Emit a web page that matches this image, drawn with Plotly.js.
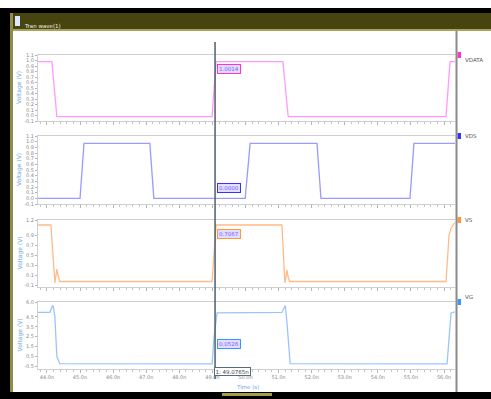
<!DOCTYPE html>
<html><head><meta charset="utf-8">
<script src="https://cdn.plot.ly/plotly-3.0.1.min.js"></script>
<style>html,body{margin:0;padding:0;background:#fff}#c{width:491px;height:399px}</style>
</head><body><div id="c"></div>
<script>
// ---- data ----
const seriesNames = ["VDATA", "VDS", "VS", "VG"];
const tVDATA = [43.73, 44.15, 44.30, 48.99, 49.11, 51.13, 51.29, 56.06, 56.18, 56.33];
const vVDATA = [0.98, 0.98, -0.02, -0.02, 0.98, 0.98, -0.02, -0.02, 0.98, 0.98];
const tVDS = [43.73, 45.00, 45.12, 47.11, 47.23, 49.99, 50.14, 52.16, 52.28, 54.97, 55.09, 56.33];
const vVDS = [0.0, 0.0, 0.97, 0.97, 0.0, 0.0, 0.97, 0.97, 0.0, 0.0, 0.97, 0.97];
const tVS = [43.73, 44.12, 44.24, 44.27, 44.30, 44.33, 44.39, 48.99, 49.05, 49.11, 51.10, 51.19, 51.22, 51.25, 51.28, 51.33, 56.06, 56.15, 56.22, 56.33];
const vVS = [1.1, 1.1, -0.06, 0.05, 0.22, 0.1, -0.03, -0.03, 0.6, 1.1, 1.1, -0.06, 0.05, 0.2, 0.08, -0.03, -0.03, 0.9, 1.05, 1.15];
const tVG = [43.73, 44.09, 44.15, 44.19, 44.24, 44.30, 44.39, 48.99, 49.05, 49.14, 51.10, 51.16, 51.20, 51.25, 51.35, 56.09, 56.21, 56.33];
const vVG = [4.95, 4.95, 5.5, 5.65, 4.5, 0.5, -0.22, -0.25, 2.5, 4.9, 4.95, 5.5, 5.65, 4.0, -0.22, -0.25, 4.9, 5.0];
const xTickVals = [44, 45, 46, 47, 48, 49, 50, 51, 52, 53, 54, 55, 56];
const xTickText = ["44.0n", "45.0n", "46.0n", "47.0n", "48.0n", "49.0n", "50.0n", "51.0n", "52.0n", "53.0n", "54.0n", "55.0n", "56.0n"];
const yTicks1 = [-0.1, 0.0, 0.1, 0.2, 0.3, 0.4, 0.5, 0.6, 0.7, 0.8, 0.9, 1.0, 1.1];
const yTicks2 = [-0.1, 0.0, 0.1, 0.2, 0.3, 0.4, 0.5, 0.6, 0.7, 0.8, 0.9, 1.0, 1.1];
const yTicks3 = [-0.1, 0.1, 0.3, 0.5, 0.7, 0.9, 1.2];
const yTicks4 = [-0.5, 0.5, 1.5, 2.5, 3.5, 4.5, 6.0];
const cursorT = 49.08;
const cursorLabel = "1: 49.0765n";
const cursorValues = ["1.0014", "0.0000", "0.7067", "0.0526"];
const xTitle = "Time (s)";
const yTitle = "Voltage (V)";
const windowTitle = "Tran wave(1)";

// ---- styles ----
const W = 491, H = 399;
const px = x => x / W, py = y => 1 - y / H;
const lineCols = ["#ff99ff", "#9a9aff", "#ffbb88", "#99c4ff"];
const boxCols = ["#ff33cc", "#3333ff", "#ff9933", "#3399ff"];
const panelsPx = [[55, 121], [136, 204], [220, 287], [302, 369]];
const yRanges = [[-0.1, 1.1], [-0.1, 1.1], [-0.14, 1.2], [-0.76, 6.0]];
const yTickSets = [yTicks1, yTicks2, yTicks3, yTicks4];
const xRange = [43.73, 56.33];
const ts = [tVDATA, tVDS, tVS, tVG], vs = [vVDATA, vVDS, vVS, vVG];

const data = ts.map((t, i) => ({
  x: t, y: vs[i], type: "scatter", mode: "lines",
  line: {color: lineCols[i], width: 1.3},
  xaxis: "x" + (i + 1), yaxis: "y" + (i + 1), hoverinfo: "none"
}));

const layout = {
  width: W, height: H, margin: {l: 0, r: 0, t: 0, b: 0},
  paper_bgcolor: "#ffffff", plot_bgcolor: "#ffffff", showlegend: false,
  font: {family: "DejaVu Sans, sans-serif", size: 5, color: "#999"},
  shapes: [], annotations: []
};
for (let i = 0; i < 4; i++) {
  const k = i + 1;
  layout["xaxis" + k] = {
    domain: [px(38), px(455)], range: xRange, anchor: "y" + k,
    showgrid: false, zeroline: false, showline: true, mirror: true, linecolor: "#cfcfcf", linewidth: 1,
    ticks: "outside", ticklen: 3, tickcolor: "#b5b5b5", tickvals: xTickVals, ticktext: xTickText,
    minor: {dtick: 0.2, ticks: "outside", ticklen: 2, tickcolor: "#c5c5c5"},
    showticklabels: i === 3, tickfont: {size: 5, color: "#888"}, fixedrange: true
  };
  if (i > 0) layout["xaxis" + k].matches = "x";
  layout["yaxis" + k] = {
    domain: [py(panelsPx[i][1]), py(panelsPx[i][0])], range: yRanges[i], anchor: "x" + k,
    showgrid: false, zeroline: false, showline: true, linecolor: "#cfcfcf",
    ticks: "outside", ticklen: 2, tickcolor: "#b5b5b5", tickvals: yTickSets[i],
    ticktext: yTickSets[i].map(v => v.toFixed(1)),
    tickfont: {size: 5, color: "#8a8a8a"}, fixedrange: true
  };
  layout.annotations.push({xref: "paper", yref: "paper", x: px(19), y: py((panelsPx[i][0] + panelsPx[i][1]) / 2),
    xanchor: "center", yanchor: "middle",
    text: yTitle, textangle: -90, showarrow: false, font: {size: 6, color: "#6fa8dc"}});
  layout.shapes.push({type: "rect", xref: "paper", yref: "paper", x0: px(457.5), x1: px(461), y0: py(panelsPx[i][0] + 3), y1: py(panelsPx[i][0] - 3),
    fillcolor: boxCols[i], line: {width: 0}});
  layout.annotations.push({xref: "paper", yref: "paper", x: px(463), y: py(panelsPx[i][0]), xanchor: "left",
    text: seriesNames[i], showarrow: false, font: {size: 5.5, color: "#555"}});
}
const boxY = [64, 188, 234, 349];
for (let i = 0; i < 4; i++) {
  layout.annotations.push({xref: "x" + (i + 1), yref: "paper", x: cursorT, y: py(boxY[i]), xanchor: "left", xshift: 2,
    text: cursorValues[i], showarrow: false, bgcolor: "#e4dcff", bordercolor: boxCols[i], borderwidth: 1, borderpad: 1,
    font: {size: 5.5, color: "#7466ff"}});
}
layout.shapes.push({type: "line", xref: "x4", yref: "paper", x0: cursorT, x1: cursorT, y0: py(379), y1: py(42),
  line: {color: "#4f5f70", width: 1.5}});
layout.annotations.push({xref: "x4", yref: "paper", x: cursorT, y: py(376), xanchor: "left", xshift: -1,
  text: cursorLabel, showarrow: false, bgcolor: "#ffffff", bordercolor: "#5a6a7a", borderwidth: 1, borderpad: 0.5,
  font: {size: 5.5, color: "#444"}});
layout.annotations.push({xref: "paper", yref: "paper", x: px(247), y: py(387), text: xTitle, showarrow: false,
  xanchor: "center", yanchor: "middle", font: {size: 5.5, color: "#6fa8dc"}});

const rect = (x0, y0, x1, y1, c) => ({type: "rect", xref: "paper", yref: "paper", x0: px(x0), x1: px(x1), y0: py(y1), y1: py(y0),
  fillcolor: c, line: {width: 0}, layer: "above"});
layout.shapes.push(
  rect(6, 8, 491, 13, "#000000"),
  rect(0, 8, 10, 399, "#000000"),
  rect(10, 13, 491, 29, "#47440f"),
  rect(10, 29, 491, 31, "#a7a35e"),
  rect(10, 13, 13, 399, "#8f8b4a"),
  rect(0, 392, 491, 399, "#000000"),
  rect(222, 393, 272, 396, "#a39d45"),
  rect(455.5, 31, 457.5, 392, "#8a8a8a"),
  rect(15, 16, 20, 26, "#dfe6ff")
);
layout.annotations.push({xref: "paper", yref: "paper", x: px(22), y: py(21), xanchor: "left", text: windowTitle,
  showarrow: false, font: {size: 5.5, color: "#f0f0e0"}});

Plotly.newPlot("c", data, layout, {displayModeBar: false, staticPlot: true});
</script></body></html>
